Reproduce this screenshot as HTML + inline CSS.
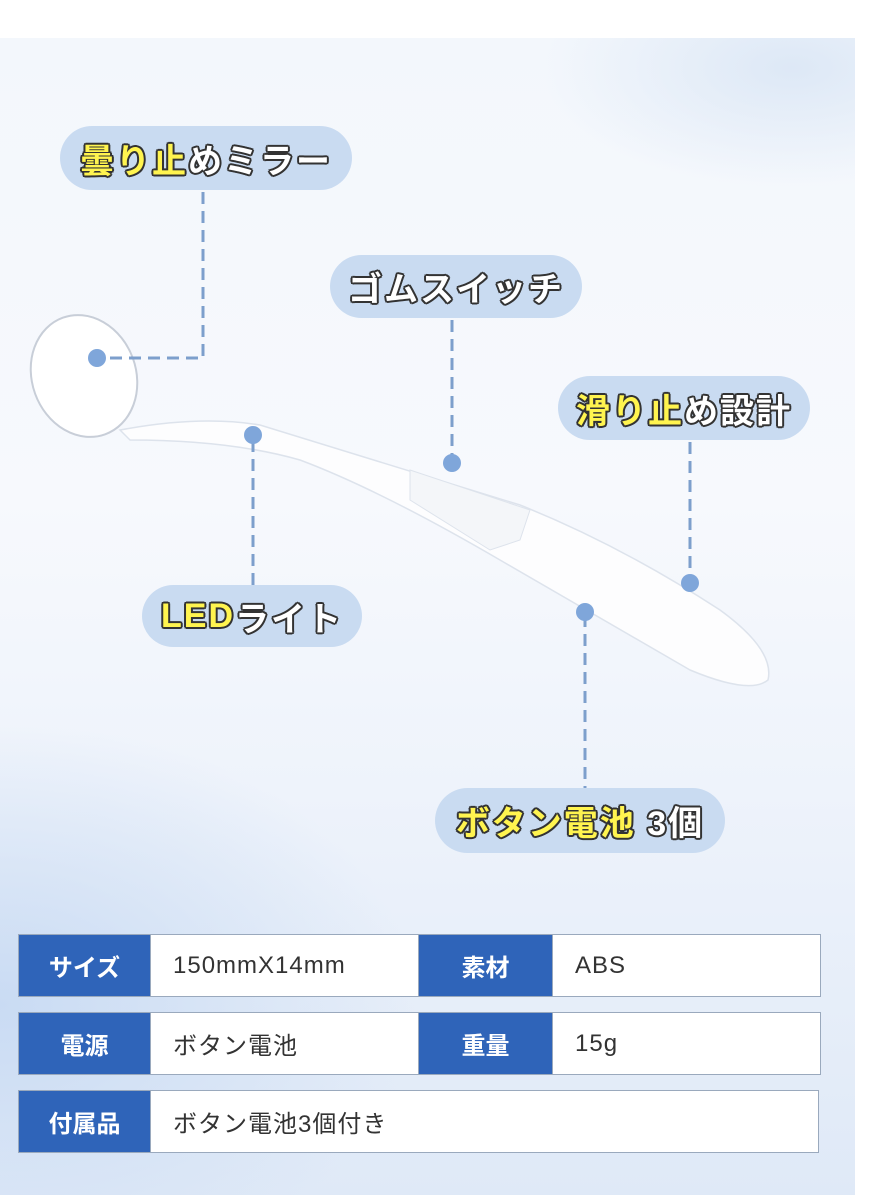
<!DOCTYPE html><html><head><meta charset="utf-8"><style>
body{margin:0;width:876px;height:1200px;background:#fff;position:relative;overflow:hidden;font-family:"Liberation Sans","Noto Sans CJK JP",sans-serif}
.bg{position:absolute;left:0;top:38px;width:855px;height:1157px;background:linear-gradient(180deg,#f3f7fc 0%,#f7f9fd 40%,#eef3fb 65%,#dfe9f7 100%)}
.bg2{position:absolute;left:0;top:720px;width:420px;height:475px;background:radial-gradient(ellipse at 0% 60%,#c9dbf3 0%,rgba(220,232,248,0) 70%)}
.bg3{position:absolute;left:540px;top:38px;width:315px;height:150px;background:radial-gradient(ellipse at 80% 20%,#dde8f6 0%,rgba(230,238,250,0) 70%)}
.pill{position:absolute;background:#c9dbf1;border-radius:34px;display:flex;align-items:center;justify-content:center;font-size:34px;font-weight:bold;color:#fff;letter-spacing:2px;
text-shadow:-1.5px -1.5px 0 #333,1.5px -1.5px 0 #333,-1.5px 1.5px 0 #333,1.5px 1.5px 0 #333,0 2px 0 #333,2px 0 0 #333,-2px 0 0 #333,0 -2px 0 #333}
.y{color:#fff44f}
table{position:absolute;left:18px;border-collapse:collapse;font-size:24px}
td{height:61px;border:1px solid #9aa9bd;padding:0}
.h{background:#2f64b9;color:#fff;font-weight:bold;text-align:center;width:131px}
.v{background:#fff;color:#333;padding-left:22px;width:245px;letter-spacing:1px}
</style></head><body>
<div class="bg"></div><div class="bg2"></div><div class="bg3"></div>
<svg width="876" height="1200" style="position:absolute;left:0;top:0">
<path d="M120 430 Q200 415 260 425 L520 505 Q620 545 720 610 Q775 650 768 680 Q750 695 690 670 L500 560 Q380 490 300 460 Q230 440 130 440 Z" fill="#fdfdfe" stroke="#dde3ec" stroke-width="1.5"/>
<path d="M410 470 L530 510 L520 540 L490 550 L410 500Z" fill="#f4f6f9" stroke="#dde3ec"/>
<ellipse cx="84" cy="376" rx="52" ry="62" transform="rotate(-20 84 376)" fill="#fff" stroke="#c8ced8" stroke-width="2"/>
<g stroke="#7d9fcc" stroke-width="3" stroke-dasharray="12 7" fill="none">
<path d="M203 192 V358 H105"/><path d="M452 320 V460"/><path d="M690 442 V580"/><path d="M253 440 V585"/><path d="M585 615 V788"/>
</g>
<g fill="#7fa6da"><circle cx="97" cy="358" r="9"/><circle cx="452" cy="463" r="9"/><circle cx="690" cy="583" r="9"/><circle cx="253" cy="435" r="9"/><circle cx="585" cy="612" r="9"/></g>
</svg>
<div class="pill" style="left:60px;top:126px;width:292px;height:64px"><span class="y">曇り止</span>めミラー</div>
<div class="pill" style="left:330px;top:255px;width:252px;height:63px">ゴムスイッチ</div>
<div class="pill" style="left:558px;top:376px;width:252px;height:64px"><span class="y">滑り止</span>め設計</div>
<div class="pill" style="left:142px;top:585px;width:220px;height:62px"><span class="y">LED</span>ライト</div>
<div class="pill" style="left:435px;top:788px;width:290px;height:65px"><span class="y">ボタン電池</span>&nbsp;3個</div>
<table style="top:934px"><tr><td class="h">サイズ</td><td class="v" style="width:245px">150mmX14mm</td><td class="h" style="width:133px">素材</td><td class="v">ABS</td></tr></table>
<table style="top:1012px"><tr><td class="h">電源</td><td class="v" style="width:245px">ボタン電池</td><td class="h" style="width:133px">重量</td><td class="v">15g</td></tr></table>
<table style="top:1090px"><tr><td class="h">付属品</td><td class="v" style="width:645px">ボタン電池3個付き</td></tr></table>
</body></html>
